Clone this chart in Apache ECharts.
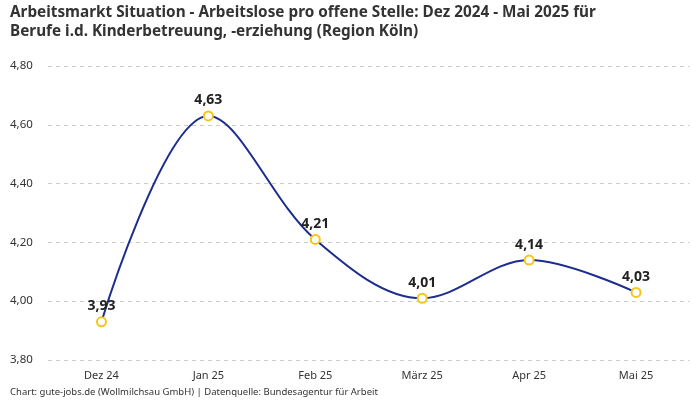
<!DOCTYPE html>
<html><head><meta charset="utf-8">
<script src="https://cdn.jsdelivr.net/npm/echarts@6/dist/echarts.min.js"></script>
<style>html,body{margin:0;padding:0;background:#fff}#c{width:700px;height:400px}</style>
</head><body><div id="c"></div>
<script>
const categories = ["Dez 24","Jan 25","Feb 25","März 25","Apr 25","Mai 25"];
const values = [3.93,4.63,4.21,4.01,4.14,4.03];
const titleLines = ["Arbeitsmarkt Situation - Arbeitslose pro offene Stelle: Dez 2024 - Mai 2025 für","Berufe i.d. Kinderbetreuung, -erziehung (Region Köln)"];
const footer = "Chart: gute-jobs.de (Wollmilchsau GmbH) | Datenquelle: Bundesagentur für Arbeit";
const fmt = v => v.toFixed(2).replace('.', ',');
const chart = echarts.init(document.getElementById('c'));
chart.setOption({
  animation:false,
  textStyle:{fontFamily:'Noto Sans'},
  title:[{text:titleLines.join('\n'),left:10,top:3,padding:0,textStyle:{fontSize:15.3,fontWeight:'bold',color:'#333',lineHeight:19,fontFamily:'Noto Sans'}},
         {text:footer,left:10,top:387,padding:0,textStyle:{fontSize:9.5,fontWeight:'normal',color:'#333',fontFamily:'Noto Sans'}}],
  grid:{left:48,right:10.5,top:66,bottom:40,containLabel:false},
  xAxis:{type:'category',data:categories,boundaryGap:true,axisLine:{show:false},axisTick:{show:false},
    axisLabel:{color:'#333',fontSize:11,margin:10}},
  yAxis:{type:'value',min:3.8,max:4.8,interval:0.2,
    axisLabel:{formatter:fmt,color:'#333',fontSize:11.5,margin:38,align:'left'},
    splitLine:{lineStyle:{type:[4,4],color:'#cccccc'}},axisLine:{show:false},axisTick:{show:false}},
  series:[{type:'line',data:values,smooth:0.35,symbol:'circle',symbolSize:9,
    lineStyle:{color:'#1c2d8c',width:2},
    itemStyle:{color:'#fff',borderColor:'#f5c518',borderWidth:2},
    label:{show:true,position:'top',formatter:p=>fmt(p.value),fontSize:14,fontWeight:'bold',color:'#222',distance:3}}]
});
</script></body></html>
